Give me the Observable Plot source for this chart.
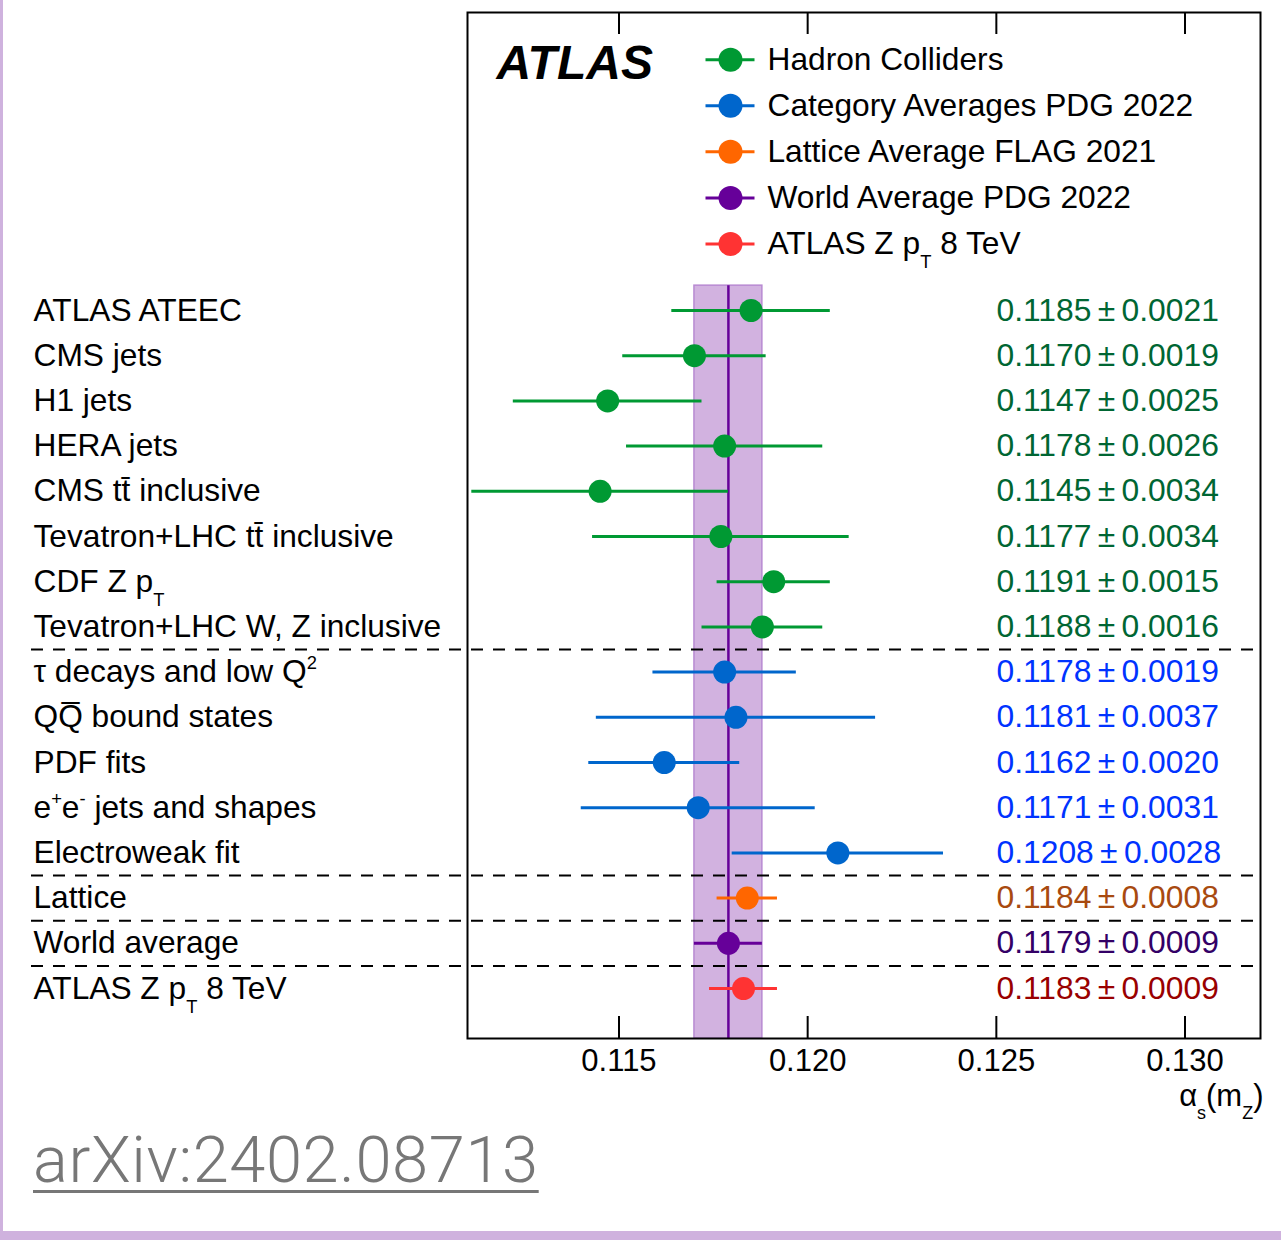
<!DOCTYPE html>
<html>
<head>
<meta charset="utf-8">
<script src="https://cdn.jsdelivr.net/npm/d3@7"></script>
<script src="https://cdn.jsdelivr.net/npm/@observablehq/plot@0.6"></script>
<style>
  html, body { margin: 0; padding: 0; background: #fff; }
  #page { position: relative; width: 1281px; height: 1240px; overflow: hidden; background: #fff; }
  #chart { position: absolute; left: 0; top: 0; }
  #source {
    position: absolute; left: 33px; top: 1128px;
    font: 300 65px Roboto, "Liberation Sans", sans-serif; line-height: 65px; letter-spacing: 0.6px;
    color: #777; text-decoration: underline; text-decoration-thickness: 3px;
    text-underline-offset: 8px; white-space: nowrap;
  }
  .edge-left { position: absolute; left: 0; top: 0; width: 3px; height: 1240px; background: #cfb2de; }
  .edge-bottom { position: absolute; left: 0; bottom: 0; width: 1281px; height: 9px; background: #cfb2de; }
</style>
</head>
<body>
<div id="page">
  <div id="chart"></div>
  <div id="source">arXiv:2402.08713</div>
  <div class="edge-left"></div>
  <div class="edge-bottom"></div>
</div>
<script>
// Determinations of the strong coupling, top to bottom.
// Markup: _{..} subscript, ^{..} superscript.
const labels = [
  "ATLAS ATEEC",
  "CMS jets",
  "H1 jets",
  "HERA jets",
  "CMS tt\u0304 inclusive",
  "Tevatron+LHC tt\u0304 inclusive",
  "CDF Z p_{T}",
  "Tevatron+LHC W, Z inclusive",
  "\u03c4 decays and low Q^{2}",
  "QQ\u0305 bound states",
  "PDF fits",
  "e^{+}e^{-} jets and shapes",
  "Electroweak fit",
  "Lattice",
  "World average",
  "ATLAS Z p_{T} 8 TeV"
];
const centrals = [0.1185, 0.1170, 0.1147, 0.1178, 0.1145, 0.1177, 0.1191, 0.1188,
                  0.1178, 0.1181, 0.1162, 0.1171, 0.1208,
                  0.1184, 0.1179, 0.1183];
const uncertainties = [0.0021, 0.0019, 0.0025, 0.0026, 0.0034, 0.0034, 0.0015, 0.0016,
                       0.0019, 0.0037, 0.0020, 0.0031, 0.0028,
                       0.0008, 0.0009, 0.0009];
const groupOfRow = [0, 0, 0, 0, 0, 0, 0, 0, 1, 1, 1, 1, 1, 2, 3, 4];

const groupNames = ["Hadron Colliders", "Category Averages PDG 2022", "Lattice Average FLAG 2021",
                    "World Average PDG 2022", "ATLAS Z p_{T} 8 TeV"];
const markerColors = ["#009933", "#0066cc", "#ff6600", "#660099", "#ff3333"];
const valueColors = ["#006633", "#0033ff", "#a84a10", "#330066", "#990000"];
const xTicks = [0.115, 0.120, 0.125, 0.130];
const worldRow = 14;

const rows = labels.map((label, i) => ({
  i, label, value: centrals[i], err: uncertainties[i], group: groupOfRow[i],
  text: `${centrals[i].toFixed(4)}\u2009\u00b1\u2009${uncertainties[i].toFixed(4)}`
}));
const legend = groupNames.map((name, k) => ({k, name, y: -5.55 + k * 1.02}));
const separators = rows.slice(1).filter((r, j) => r.group !== rows[j].group).map(r => r.i - 0.5);
const world = rows[worldRow];

const yTop = -6.593, yBottom = 16.106;
const FS = 31.7;     // labels and legend
const FV = 31.8;     // value column
const FT = 31;       // tick labels
const bandTop = -0.55;

// A short horizontal stroke used for the legend's error-bar glyph
const barGlyph = { draw(ctx) { ctx.moveTo(-25, 0); ctx.lineTo(24, 0); } };

const marks = [
  // world-average band and its central value
  Plot.rect([world], {x1: d => d.value - d.err, x2: d => d.value + d.err, y1: bandTop, y2: yBottom,
    fill: "#d2b2e0", stroke: "#b88ad2", strokeWidth: 1.5}),
  Plot.ruleX([world], {x: "value", y1: bandTop, y2: yBottom, stroke: "#660099", strokeWidth: 2.5}),
  // group separators, running out under the row labels
  Plot.ruleY(separators, {y: d => d, stroke: "black", strokeWidth: 2, strokeDasharray: "12,10", insetLeft: -436}),
  // axis ticks, inside the frame on top and bottom
  Plot.ruleX(xTicks, {x: d => d, insetBottom: 1004, stroke: "black", strokeWidth: 2}),
  Plot.ruleX(xTicks, {x: d => d, insetTop: 1004, stroke: "black", strokeWidth: 2}),
  Plot.frame({stroke: "black", strokeWidth: 2}),
  Plot.text(xTicks, {x: d => d, frameAnchor: "bottom", dy: 32, text: d => d.toFixed(3), fontSize: FT, fill: "black"}),
  Plot.text(["\u03b1_{s}(m_{Z})"], {frameAnchor: "bottom-right", textAnchor: "end", dx: 3, dy: 67, text: d => d, fontSize: FT, fill: "black"}),
  // row labels
  Plot.text(rows, {y: "i", frameAnchor: "left", textAnchor: "start", dx: -434, text: "label", fontSize: FS, fill: "black"}),
  Plot.text(["ATLAS"], {frameAnchor: "top-left", textAnchor: "start", lineAnchor: "top", dx: 29, dy: 32,
    text: d => d, fontSize: 48, fontWeight: "bold", fontStyle: "italic", fill: "black"})
];

groupNames.forEach((name, g) => {
  const sub = rows.filter(r => r.group === g);
  marks.push(
    Plot.ruleY(sub, {y: "i", x1: d => d.value - d.err, x2: d => d.value + d.err, stroke: markerColors[g], strokeWidth: 3}),
    Plot.dot(sub, {x: "value", y: "i", r: 11.5, fill: markerColors[g]}),
    Plot.text(sub, {y: "i", frameAnchor: "left", textAnchor: "start", dx: 529, text: "text", fontSize: FV, fill: valueColors[g]})
  );
});

// legend
legend.forEach(entry => {
  const c = markerColors[entry.k];
  marks.push(
    Plot.dot([entry], {y: "y", frameAnchor: "left", dx: 263, symbol: barGlyph, r: 10, stroke: c, strokeWidth: 3, fill: "none"}),
    Plot.dot([entry], {y: "y", frameAnchor: "left", dx: 263, r: 12, fill: c}),
    Plot.text([entry], {y: "y", frameAnchor: "left", textAnchor: "start", dx: 300, text: "name", fontSize: FS, fill: "black"})
  );
});

const svg = Plot.plot({
  width: 1281,
  height: 1130,
  marginLeft: 467,
  marginRight: 21,
  marginTop: 12,
  marginBottom: 92,
  x: {domain: [0.110986, 0.132], axis: null},
  y: {domain: [yTop, yBottom], reverse: true, axis: null},
  style: {fontFamily: "'Liberation Sans', Arial, Helvetica, sans-serif", background: "transparent", overflow: "visible"},
  marks
});
document.getElementById("chart").appendChild(svg);

// Turn the _{..} / ^{..} markup into sub- and superscript tspans
const NS = "http://www.w3.org/2000/svg";
svg.querySelectorAll("text").forEach(t => {
  const s = t.textContent;
  if (!/[_^]\{/.test(s)) return;
  const fs = parseFloat(getComputedStyle(t).fontSize) || FS;
  t.textContent = "";
  let offset = 0;
  for (const part of s.split(/([_^]\{[^}]*\})/)) {
    if (!part) continue;
    const m = part.match(/^([_^])\{([^}]*)\}$/);
    const span = document.createElementNS(NS, "tspan");
    if (m) {
      const target = m[1] === "_" ? 0.44 * fs : -0.42 * fs;
      span.setAttribute("dy", target - offset);
      span.setAttribute("font-size", 0.58 * fs);
      span.textContent = m[2];
      offset = target;
    } else {
      if (offset) span.setAttribute("dy", -offset);
      span.textContent = part;
      offset = 0;
    }
    t.appendChild(span);
  }
});
</script>
</body>
</html>
